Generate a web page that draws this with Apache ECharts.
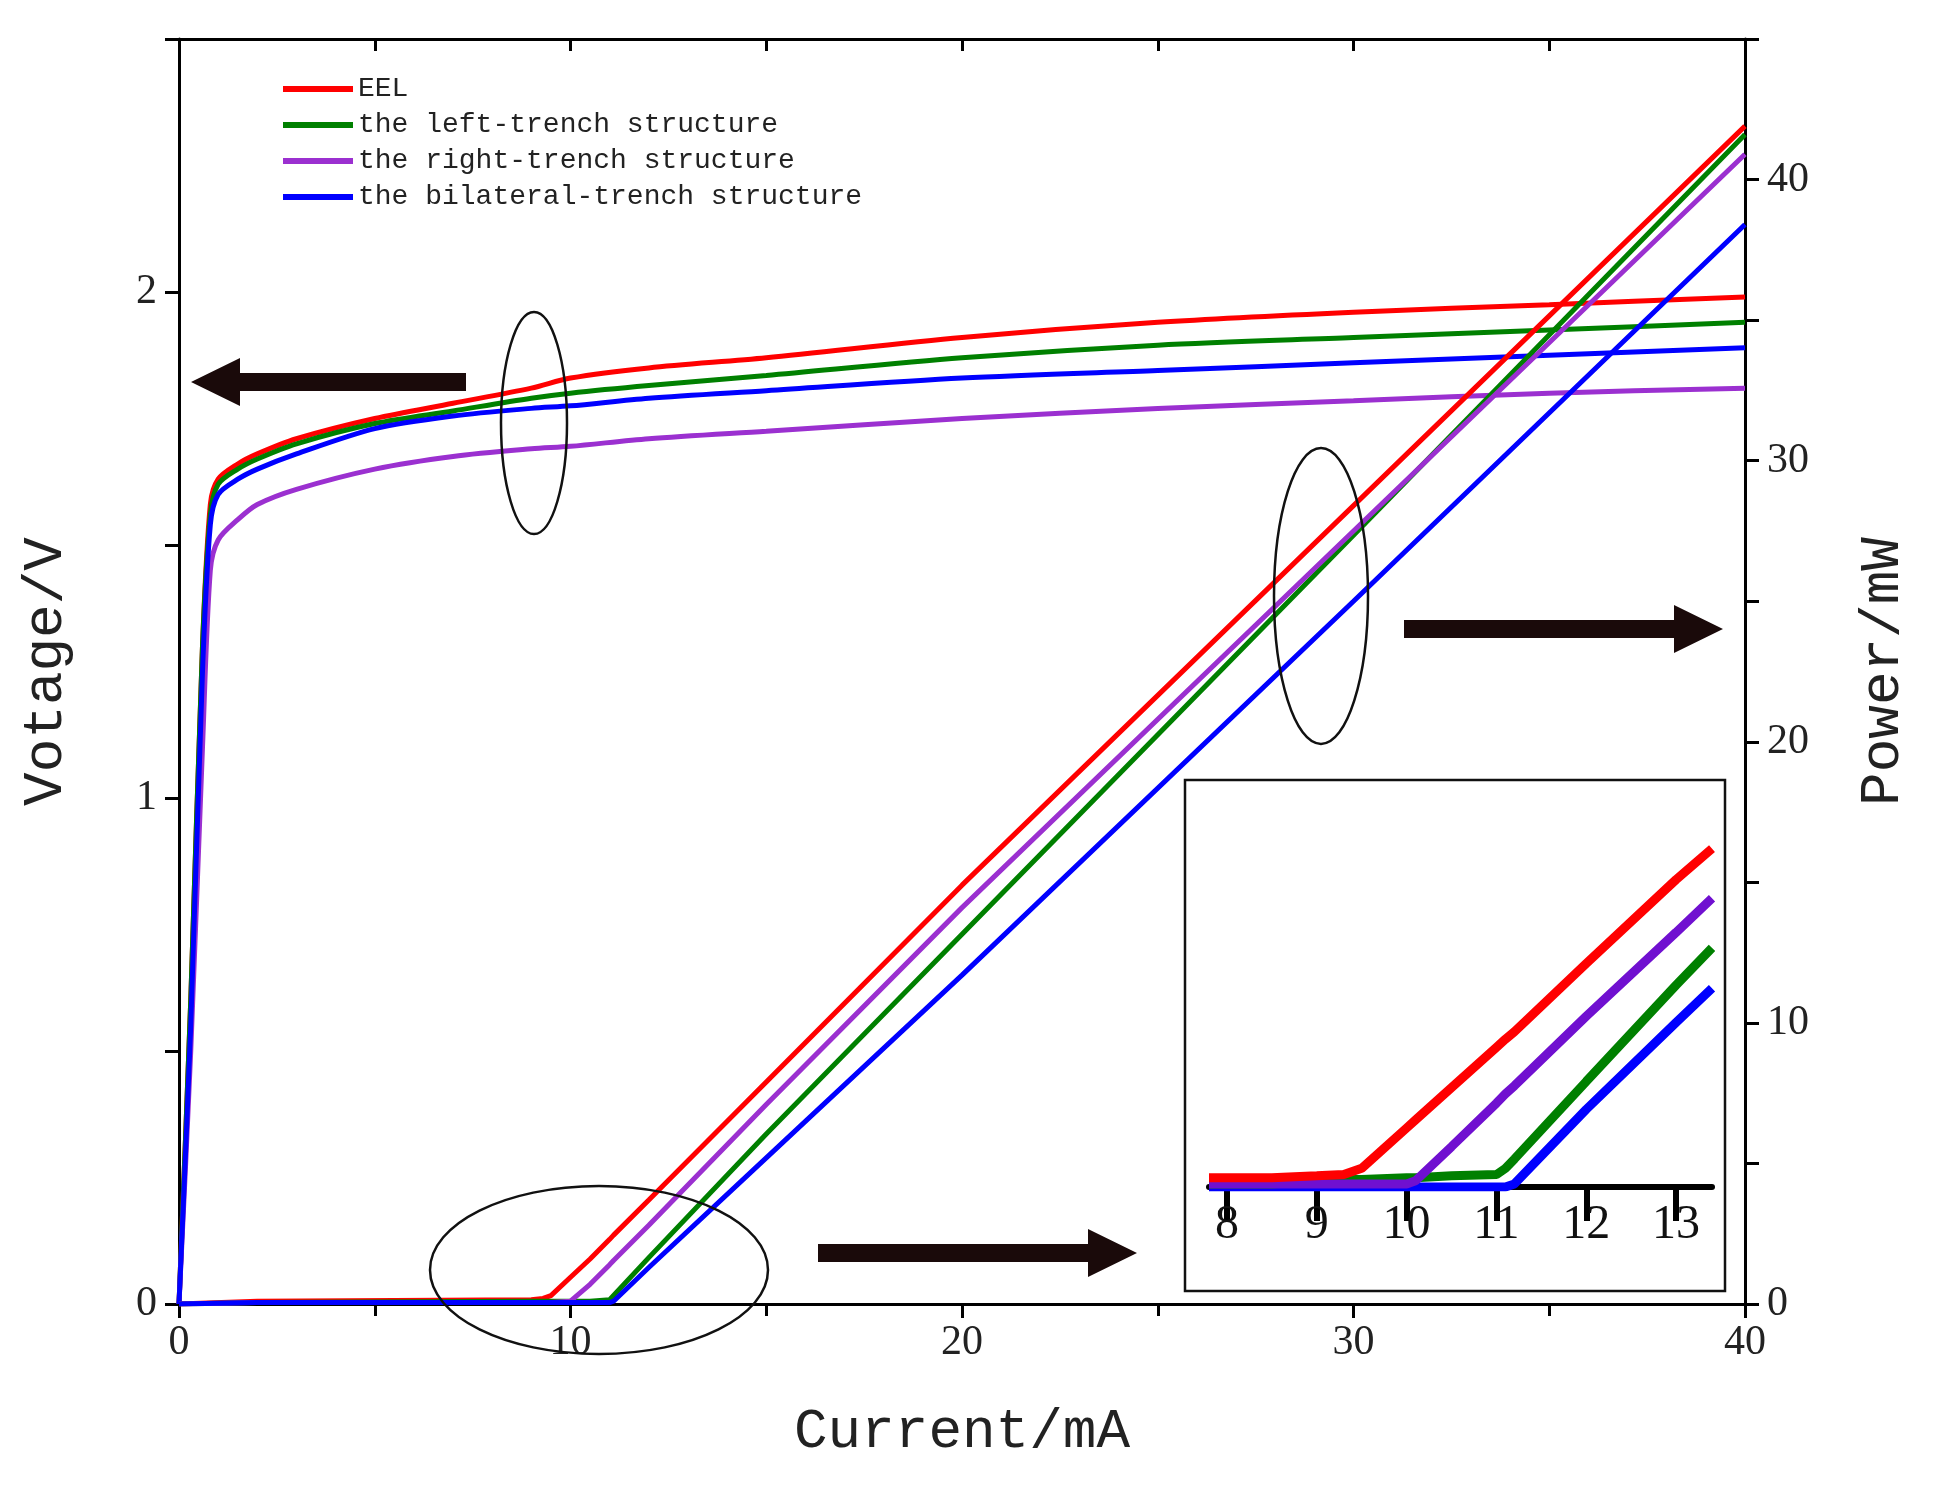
<!DOCTYPE html><html><head><meta charset="utf-8">
<script src="https://cdn.jsdelivr.net/npm/echarts@6/dist/echarts.min.js"></script>
<style>html,body{margin:0;background:#fff}#c{width:1934px;height:1507px}</style></head><body><div id="c"></div>
<script>
const seriesNames=['EEL','the left-trench structure','the right-trench structure','the bilateral-trench structure'];
const colors=['#ff0000','#008000','#9b30d0','#0000ff'];
const vX=[0,0.3,0.6,0.8,1,1.5,2,3,5,7,9,10,12,15,20,25,30,35,40];
const vEEL=[0,0.6,1.3,1.58,1.63,1.66,1.68,1.71,1.75,1.78,1.81,1.83,1.85,1.87,1.91,1.94,1.96,1.975,1.99];
const vLeft=[0,0.6,1.3,1.56,1.62,1.65,1.67,1.70,1.74,1.765,1.79,1.80,1.815,1.835,1.87,1.895,1.91,1.925,1.94];
const vRight=[0,0.5,1.1,1.45,1.51,1.55,1.58,1.61,1.65,1.675,1.69,1.695,1.71,1.725,1.75,1.77,1.785,1.80,1.81];
const vBi=[0,0.55,1.25,1.54,1.60,1.63,1.65,1.68,1.73,1.755,1.77,1.775,1.79,1.805,1.83,1.845,1.86,1.875,1.89];
const pX=[0,2,9,9.3,9.5,10,10.5,11,11.1,12,15,20,30,40];
const pEEL=[0,0.1,0.15,0.2,0.3,0.95,1.6,2.3,2.45,3.7,7.9,14.9,28.4,41.9];
const pLeft=[0,0.05,0.1,0.1,0.1,0.1,0.1,0.15,0.3,1.65,6.05,13.15,27.35,41.6];
const pRight=[0,0.05,0.05,0.05,0.05,0.1,0.7,1.4,1.55,2.8,7.1,14.1,27.5,40.9];
const pBi=[0,0.05,0.05,0.05,0.05,0.05,0.05,0.05,0.1,1.3,5.2,11.7,25.0,38.4];
const iX=[7.8,8.5,9,9.3,9.5,10,10.1,10.5,11,11.1,11.2,12,13,13.4];
const iEEL=[0.15,0.15,0.18,0.2,0.3,0.95,1.08,1.6,2.25,2.38,2.5,3.6,4.95,5.45];
const iLeft=[0.05,0.05,0.1,0.12,0.12,0.15,0.15,0.18,0.2,0.3,0.45,1.7,3.25,3.85];
const iRight=[0.05,0.05,0.05,0.05,0.05,0.05,0.1,0.65,1.35,1.5,1.63,2.75,4.1,4.65];
const iBi=[0,0,0,0,0,0,0,0,0,0,0.05,1.25,2.65,3.2];
const insetTicks=[8,9,10,11,12,13];
const zip=(a,b)=>a.map((x,i)=>[x,b[i]]);
const V=[vEEL,vLeft,vRight,vBi],P=[pEEL,pLeft,pRight,pBi],I=[iEEL,iLeft,iRight,iBi];
const ch=echarts.init(document.getElementById('c'));
const tf='Liberation Serif', mf='Liberation Mono';
const ax={onZero:false,lineStyle:{color:'#000',width:3}};
const series=[];
V.forEach((d,i)=>series.push({name:seriesNames[i],type:'line',xAxisIndex:0,yAxisIndex:0,data:zip(vX,d),smooth:0.3,showSymbol:false,lineStyle:{width:5,color:colors[i]},itemStyle:{color:colors[i]},z:3}));
P.forEach((d,i)=>series.push({name:seriesNames[i],type:'line',xAxisIndex:0,yAxisIndex:1,data:zip(pX,d),showSymbol:false,lineStyle:{width:5,color:colors[i]},itemStyle:{color:colors[i]},z:3}));
const icol=['#ff0000','#008000','#7010d0','#0000ff'];
[3,1,2,0].forEach(i=>series.push({type:'line',xAxisIndex:2,yAxisIndex:2,data:zip(iX,I[i]),showSymbol:false,lineStyle:{width:9,color:icol[i]},z:100,silent:true}));
function ell(cx,cy,rx,ry){return {type:'ellipse',shape:{cx,cy,rx,ry},style:{fill:null,stroke:'#111',lineWidth:2.5},z:10};}
function arrow(x1,x2,y){const d=x2>x1?1:-1,h=49,t=9;const xb=x2-d*h;
 return {type:'polygon',shape:{points:[[x1,y-t],[xb,y-t],[xb,y-24],[x2,y],[xb,y+24],[xb,y+t],[x1,y+t]]},style:{fill:'#1a0a0a'},z:10};}
ch.setOption({
 animation:false,
 legend:{data:seriesNames,orient:'vertical',left:278,top:70,itemWidth:70,itemHeight:6,itemGap:8,icon:'rect',
  textStyle:{fontFamily:mf,fontSize:28,color:'#222'}},
 grid:[{left:179,right:189,top:39,bottom:203},{left:1209,right:222,top:802,bottom:320}],
 xAxis:[
  {type:'value',gridIndex:0,min:0,max:40,interval:10,axisLine:ax,axisTick:{length:14,lineStyle:{width:3}},minorTick:{show:true,splitNumber:2,length:12,lineStyle:{color:'#000',width:3}},splitLine:{show:false},
   axisLabel:{fontFamily:tf,fontSize:42,color:'#222',margin:18},name:'Current/mA',nameLocation:'middle',nameGap:100,nameTextStyle:{fontFamily:mf,fontSize:56,color:'#222'}},
  {type:'value',gridIndex:0,position:'top',min:0,max:40,interval:10,axisLine:ax,axisTick:{inside:true,length:12,lineStyle:{width:3}},minorTick:{show:true,splitNumber:2,length:12,lineStyle:{color:'#000',width:3}},axisLabel:{show:false},splitLine:{show:false}},
  {type:'value',gridIndex:1,min:7.8,max:13.4,z:60,axisLine:{onZero:false,lineStyle:{color:'#000',width:6}},splitLine:{show:false},
   axisTick:{customValues:insetTicks,length:34,lineStyle:{width:6}},axisLabel:{customValues:insetTicks,fontFamily:tf,fontSize:48,color:'#111',margin:14}}
 ],
 yAxis:[
  {type:'value',gridIndex:0,min:0,max:2.5,interval:0.5,axisLine:{show:true,...ax},axisTick:{show:true,length:14,lineStyle:{width:3}},splitLine:{show:false},
   axisLabel:{fontFamily:tf,fontSize:42,color:'#222',margin:22,formatter:v=>Number.isInteger(v)?String(v):''},
   name:'Votage/V',nameLocation:'middle',nameGap:105,nameTextStyle:{fontFamily:mf,fontSize:56,color:'#222'}},
  {type:'value',gridIndex:0,position:'right',min:0,max:45,interval:10,axisLine:{show:true,...ax},axisTick:{show:true,length:14,lineStyle:{width:3}},minorTick:{show:true,splitNumber:2,length:14,lineStyle:{color:'#000',width:3}},splitLine:{show:false},
   axisLabel:{fontFamily:tf,fontSize:42,color:'#222',margin:22,formatter:v=>v>40?'':String(v)},name:'Power/mW',nameLocation:'middle',nameGap:110,nameRotate:90,nameTextStyle:{fontFamily:mf,fontSize:56,color:'#222'}},
  {type:'value',gridIndex:1,min:0,max:6.2,show:false}
 ],
 graphic:[
  {type:'rect',shape:{x:1185,y:780,width:540,height:511},style:{fill:'#fff',stroke:'#111',lineWidth:2.5},z:5},
  ell(534,423,33,111),ell(1321,596,47,148),ell(599,1270,169,84),
  arrow(466,191,382),arrow(1404,1723,629),arrow(818,1137,1253)
 ],
 series
});
</script></body></html>
